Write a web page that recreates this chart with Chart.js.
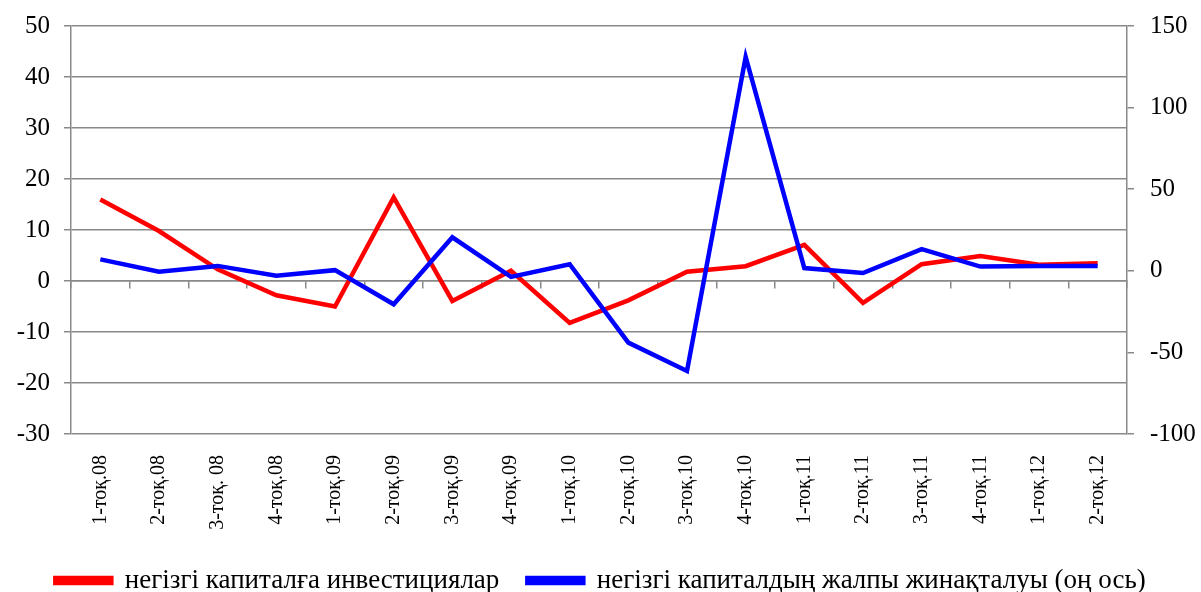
<!DOCTYPE html>
<html>
<head>
<meta charset="utf-8">
<script src="https://cdn.jsdelivr.net/npm/chart.js@4"></script>
<style>
    body { margin: 0; background: #fff; }
    #wrap { width: 1201px; height: 592px; }
</style>
</head>
<body>
<div id="wrap"><canvas id="chart"></canvas></div>
<script>
const QUARTERS = ['1-тоқ.08', '2-тоқ.08', '3-тоқ. 08', '4-тоқ.08', '1-тоқ.09', '2-тоқ.09', '3-тоқ.09', '4-тоқ.09',
    '1-тоқ.10', '2-тоқ.10', '3-тоқ.10', '4-тоқ.10', '1-тоқ.11', '2-тоқ.11', '3-тоқ.11', '4-тоқ.11', '1-тоқ.12', '2-тоқ.12'];
const INVESTMENTS = [16, 9.8, 2.3, -2.8, -5, 16.4, -3.9, 2, -8.2, -3.8, 1.8, 2.9, 7.1, -4.3, 3.3, 4.9, 3.2, 3.5];
const ACCUMULATION = [7, -0.6, 3, -3, 0.4, -20.5, 20.5, -3.7, 4, -44, -61.4, 131, 1.7, -1.4, 13.3, 2.6, 3, 3];
const LABEL_INV = 'негізгі капиталға инвестициялар';
const LABEL_ACC = 'негізгі капиталдың жалпы жинақталуы (оң ось)';

const SERIF = '"Liberation Serif", "Times New Roman", serif';
const GRID = '#898989';

Chart.defaults.color = '#000';
Chart.defaults.font.family = SERIF;

const ctx = document.getElementById('chart').getContext('2d');
const chart = new Chart(ctx, {
    type: 'line',
    data: {
        labels: QUARTERS,
        datasets: [{
            label: LABEL_INV,
            data: INVESTMENTS,
            borderColor: '#ff0000',
            backgroundColor: '#ff0000',
            borderWidth: 4.5,
            pointRadius: 0,
            tension: 0,
            yAxisID: 'y',
            order: 1
        }, {
            label: LABEL_ACC,
            data: ACCUMULATION,
            borderColor: '#0000ff',
            backgroundColor: '#0000ff',
            borderWidth: 4.5,
            pointRadius: 0,
            tension: 0,
            yAxisID: 'y1',
            order: 0
        }]
    },
    options: {
        responsive: true,
        maintainAspectRatio: false,
        animation: false,
        layout: { autoPadding: false, padding: { top: 26, left: 0, right: 0, bottom: -12 } },
        plugins: {
            tooltip: { enabled: false },
            legend: {
                position: 'bottom',
                labels: {
                    font: { family: SERIF, size: 27 },
                    boxWidth: 56,
                    boxHeight: 5,
                    padding: 28,
                    sort: (a, b) => a.datasetIndex - b.datasetIndex
                }
            }
        },
        scales: {
            x: {
                type: 'category',
                offset: true,
                grid: { display: false },
                border: { display: false },
                ticks: { font: { size: 20 }, maxRotation: 90, minRotation: 90, padding: 13, autoSkip: false },
                afterFit: s => { s.height = 105; }
            },
            x0: {
                type: 'category',
                axis: 'x',
                offset: true,
                position: { y: 0 },
                grid: { offset: true, drawOnChartArea: false, tickLength: 7, color: GRID, lineWidth: 1.5 },
                border: { color: GRID, width: 1.5 },
                ticks: { display: false }
            },
            y: {
                position: 'left',
                min: -30,
                max: 50,
                ticks: { stepSize: 10, font: { size: 25, lineHeight: 0.8 }, padding: 14 },
                grid: { color: GRID, lineWidth: 1.5, tickLength: 7 },
                border: { color: GRID, width: 1.5 },
                afterFit: s => { s.width = 71; }
            },
            y1: {
                position: 'right',
                min: -100,
                max: 150,
                ticks: { stepSize: 50, font: { size: 25, lineHeight: 0.8 }, padding: 16 },
                grid: { drawOnChartArea: false, color: GRID, lineWidth: 1.5, tickLength: 7 },
                border: { color: GRID, width: 1.5 },
                afterFit: s => { s.width = 74; }
            }
        }
    }
});
</script>
</body>
</html>
